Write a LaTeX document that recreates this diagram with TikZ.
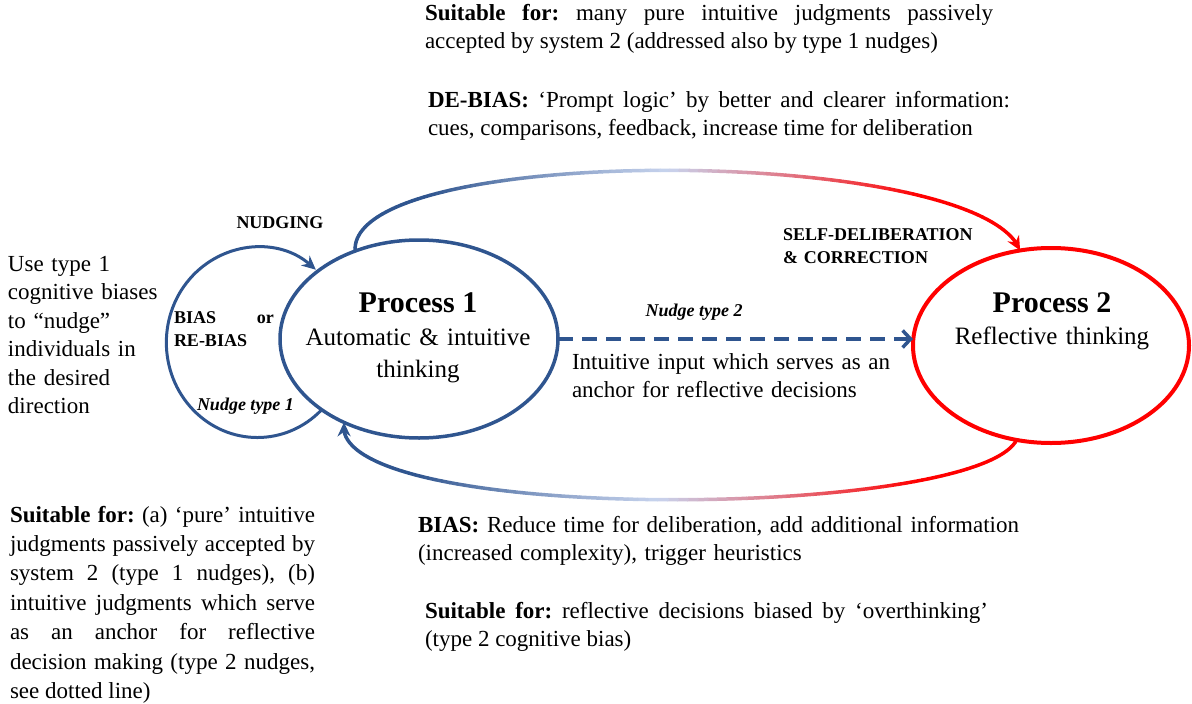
\documentclass[tikz,border=0pt]{standalone}
\usepackage{fontspec}
\setmainfont{Liberation Serif}
\usetikzlibrary{shapes.geometric,arrows.meta}
\definecolor{cblue}{RGB}{47,85,143}
\definecolor{cred}{RGB}{255,0,0}
\definecolor{clight}{RGB}{200,212,238}
\hyphenpenalty=10000
\exhyphenpenalty=10000
\frenchspacing
\begin{document}
\begin{tikzpicture}[x=1pt,y=-1pt,
  body/.style={inner sep=0pt, outer sep=0pt, anchor=base west, font=\fontsize{23}{28.5}\selectfont},
  smallbold/.style={inner sep=0pt, outer sep=0pt, font=\bfseries\fontsize{18}{23}\selectfont},
  nudgelbl/.style={inner sep=0pt, outer sep=0pt, font=\bfseries\itshape\fontsize{18}{22}\selectfont},
  ptitle/.style={inner sep=0pt, anchor=base, font=\bfseries\fontsize{30}{34}\selectfont},
  psub/.style={inner sep=0pt, anchor=base, text width=280pt, align=center, font=\fontsize{25}{32}\selectfont},
  proc/.style={ellipse, inner sep=0pt, outer sep=0pt},
  bluecon/.style={cblue, line width=3.5pt},
  seg/.style={line width=3.5pt, line cap=round},
  tipS/.style={-{Stealth[length=14pt,width=13pt]}}
]
\useasboundingbox (0,0) rectangle (1192,704);

% process ellipses
\node[proc, draw=cblue, line width=3.5pt, minimum width=278pt, minimum height=198pt] (p1) at (419,339) {};
\node[proc, draw=cred, line width=4pt, minimum width=276pt, minimum height=195pt] (p2) at (1051,345.5) {};

% titles
\node[ptitle] (p1title) at (418,312) {Process 1};
\node[psub] (p1sub) at (418,345) {Automatic \& intuitive\\thinking};
\node[ptitle] (p2title) at (1052,312) {Process 2};
\node[psub] (p2sub) at (1052,344) {Reflective thinking};

% nudging loop
\draw[cblue, line width=3pt, tipS] (p1.216) arc[start angle=45, end angle=310, x radius=91, y radius=95];
\node[smallbold, anchor=base] (nudging) at (280,228) {NUDGING};
\node[smallbold, anchor=base west, text width=100pt, align=left] (biasor) at (174,323) {BIAS\hfill or\\RE-BIAS};
\node[nudgelbl, anchor=base west] (nt1) at (197,410) {Nudge type 1};

% dashed nudge type 2
\draw[bluecon, dash pattern=on 15pt off 9pt, -{Straight Barb[length=8pt,width=17pt]}] (p1.east) -- (p1.east -| p2.west);
\node[nudgelbl, anchor=base] (nt2) at (694,316) {Nudge type 2};
\node[body, text width=330pt, align=left] (anchortxt) at (572,369) {Intuitive input which serves as an\\anchor for reflective decisions};

% top gradient arrow (self-deliberation)
\foreach \i in {0,...,96}{
  \pgfmathsetmacro\ta{\i/100}
  \pgfmathsetmacro\tb{(\i+1)/100}
  \pgfmathsetmacro\tm{(\i+0.5)/100}
  \pgfmathsetmacro\pa{100*min(max((\tm-0.22)/0.28,0),1)}
  \pgfmathsetmacro\pb{100*min(max((\tm-0.5)/0.28,0),1)}
  \colorlet{tmpA}{clight!\pa!cblue}
  \colorlet{segc}{cred!\pb!tmpA}
  \path (p1.126) .. controls (348,142) and (980,145) .. (p2.108) coordinate[pos=\ta] (qa) coordinate[pos=\tb] (qb);
  \draw[seg, segc] (qa) -- (qb);
}
\path (p1.126) .. controls (348,142) and (980,145) .. (p2.108) coordinate[pos=0.97] (qtop);
\draw[cred, line width=3.5pt, tipS] (qtop) -- (p2.108);
\node[smallbold, anchor=base west, text width=200pt, align=left] (selfdel) at (783,240) {SELF-DELIBERATION\\\& CORRECTION};

% bottom gradient arrow (bias)
\foreach \i in {0,...,96}{
  \pgfmathsetmacro\ta{\i/100}
  \pgfmathsetmacro\tb{(\i+1)/100}
  \pgfmathsetmacro\tm{(\i+0.5)/100}
  \pgfmathsetmacro\pa{100*min(max((\tm-0.22)/0.28,0),1)}
  \pgfmathsetmacro\pb{100*min(max((\tm-0.5)/0.28,0),1)}
  \colorlet{tmpA}{clight!\pa!cred}
  \colorlet{segc}{cblue!\pb!tmpA}
  \path (p2.250) .. controls (975,520) and (325,525) .. (p1.228) coordinate[pos=\ta] (qa) coordinate[pos=\tb] (qb);
  \draw[seg, segc] (qa) -- (qb);
}
\path (p2.250) .. controls (975,520) and (325,525) .. (p1.228) coordinate[pos=0.97] (qbot);
\draw[cblue, line width=3.5pt, tipS] (qbot) -- (p1.228);

% text blocks
\node[body, text width=568pt, align=justify] (topsuit) at (425,20) {\textbf{Suitable for:} many pure intuitive judgments passively\linebreak accepted by system 2 (addressed also by type 1 nudges)};
\node[body, text width=582pt, align=justify] (debias) at (428,107) {\textbf{DE-BIAS:} ‘Prompt logic’ by better and clearer information:\linebreak cues, comparisons, feedback, increase time for deliberation};
\node[body, text width=170pt, align=left] (usetype) at (8,271) {Use type 1\\cognitive biases\\to “nudge”\\individuals in\\the desired\\direction};
\node[body, text width=305pt, align=justify, font=\fontsize{23}{29.4}\selectfont] (leftsuit) at (10,522) {\textbf{Suitable for:} (a) ‘pure’ intuitive\linebreak judgments passively accepted by\linebreak system 2 (type 1 nudges), (b)\linebreak intuitive judgments which serve\linebreak as an anchor for reflective\linebreak decision making (type 2 nudges,\linebreak see dotted line)};
\node[body, text width=620pt, align=left] (biasblk) at (418,532) {\textbf{BIAS:} Reduce time for deliberation, add additional information\\(increased complexity), trigger heuristics};
\node[body, text width=563pt, align=justify] (botsuit) at (425,618) {\textbf{Suitable for:} reflective decisions biased by ‘overthinking’\linebreak (type 2 cognitive bias)};
\end{tikzpicture}
\end{document}
